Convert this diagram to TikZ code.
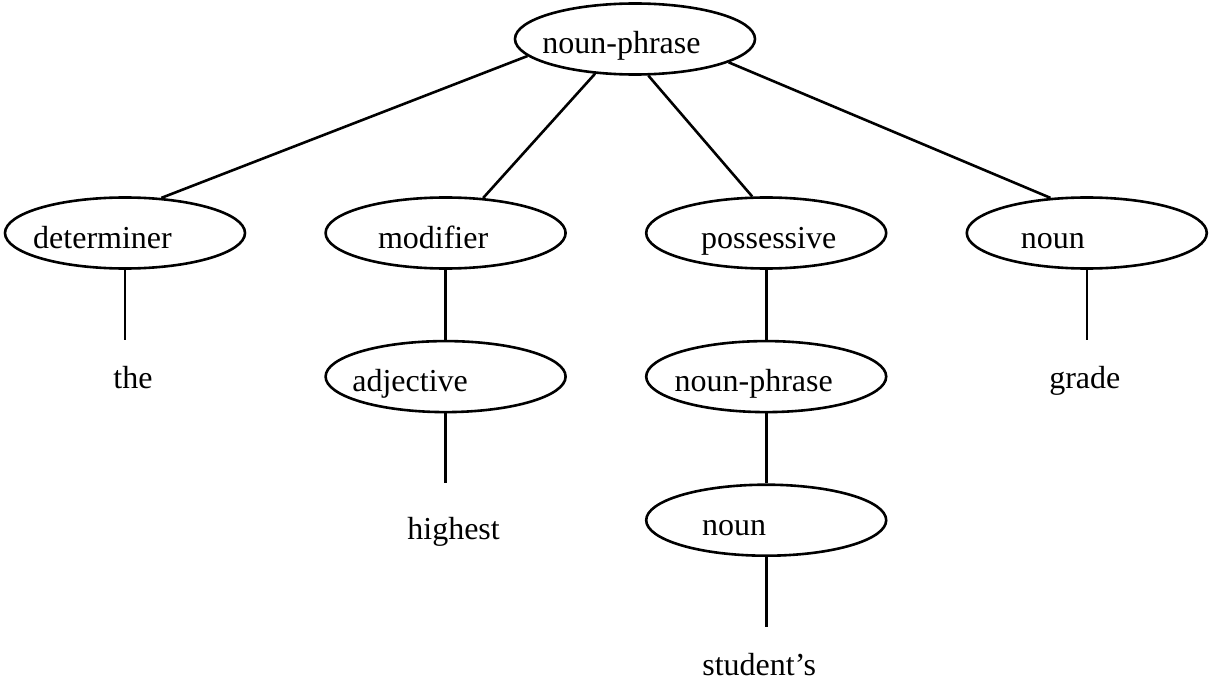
\documentclass[tikz,border=0pt]{standalone}
\usepackage{fontspec}
\setmainfont{Liberation Serif}
\usetikzlibrary{positioning,shapes.geometric}
\tikzset{bubble/.style={ellipse, draw, line width=2.6pt,
    minimum width=240pt, minimum height=71pt, inner sep=0pt},
  word/.style={font=\fontsize{32}{38}\selectfont, inner sep=0pt,
    anchor=base, yshift=-15pt},
  leaf/.style={font=\fontsize{32}{38}\selectfont, inner xsep=0pt,
    inner ysep=26pt, text height=22pt, text depth=7pt},
  branch/.style={line width=2.6pt}}

\begin{document}
\begin{tikzpicture}[x=1pt,y=-1pt]
  \useasboundingbox (0,0) rectangle (1211,682);

  % parse tree
  \node[bubble] (np) at (635,39) {};
  \node[bubble] (det) at (125,233) {};
  \node[bubble] (mod) [right=78pt of det] {};
  \node[bubble] (poss) [right=78pt of mod] {};
  \node[bubble] (noun) [right=78pt of poss] {};
  \node[bubble] (adj) [below=70pt of mod] {};
  \node[bubble] (np2) [below=70pt of poss] {};
  \node[bubble] (noun2) [below=70pt of np2] {};

  \node[word, xshift=-13.5pt] (np-l) at (np) {noun-phrase};
  \node[word, xshift=-22.5pt] (det-l) at (det) {determiner};
  \node[word, xshift=-12.5pt] (mod-l) at (mod) {modifier};
  \node[word, xshift=2.5pt] (poss-l) at (poss) {possessive};
  \node[word, xshift=-34pt] (noun-l) at (noun) {noun};
  \node[word, xshift=-35.5pt] (adj-l) at (adj) {adjective};
  \node[word, xshift=-12.5pt] (np2-l) at (np2) {noun-phrase};
  \node[word, xshift=-32pt] (noun2-l) at (noun2) {noun};

  % words
  \node[leaf, xshift=8pt] (the) [below=70pt of det] {the};
  \node[leaf, inner ysep=34pt, xshift=8pt] (highest) [below=70pt of adj] {highest};
  \node[leaf, xshift=-7pt] (students) [below=70pt of noun2] {student’s};
  \node[leaf, xshift=-2pt] (grade) [below=70pt of noun] {grade};

  \path[branch] (np.189) edge (det.44)
        (np.221) edge (mod.43)
        (np.290) edge (poss.111)
        (np.346) edge (noun.136)
        (det.south) edge (det.south |- the.north)
        (mod.south) edge (adj.north)
        (adj.south) edge (adj.south |- highest.north)
        (poss.south) edge (np2.north)
        (np2.south) edge (noun2.north)
        (noun2.south) edge (noun2.south |- students.north)
        (noun.south) edge (noun.south |- grade.north);
\end{tikzpicture}
\end{document}
